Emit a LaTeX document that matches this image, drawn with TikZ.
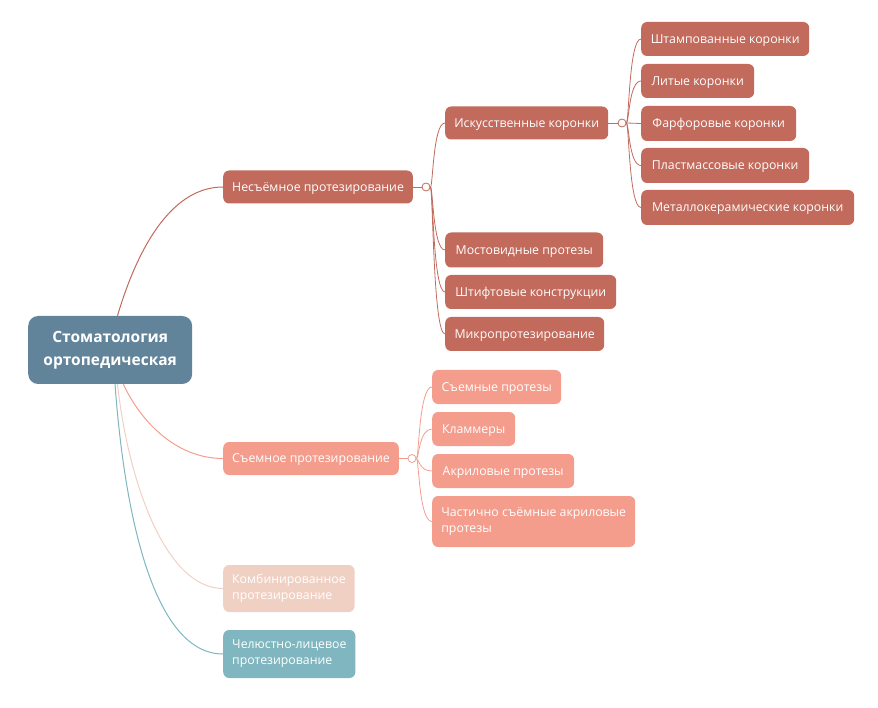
\documentclass[tikz,border=0pt]{standalone}
\usepackage{fontspec}
\setmainfont{Open Sans}
\usepackage{xcolor}
\usepackage{tikz}
\usetikzlibrary{positioning, shapes, calc}
\definecolor{rootblue}{HTML}{61849A}
\definecolor{brick}{HTML}{C26A5C}
\definecolor{salmon}{HTML}{F59D8D}
\definecolor{blush}{HTML}{F1D0C4}
\definecolor{seateal}{HTML}{7FB6BF}

\begin{document}
\begin{tikzpicture}[x=1pt, y=-1pt,
		box/.style={rectangle, rounded corners=6pt, inner xsep=9pt, inner ysep=0pt, text=white, anchor=west, font=\fontsize{12.3}{16}\selectfont},
		oneline/.style={text height=8.8pt, text depth=0pt},
		brickbox/.style={box, oneline, fill=brick},
		salmonbox/.style={box, oneline, fill=salmon},
		hub/.style={circle, draw=#1, fill=white, line width=0.8pt, minimum size=8pt, inner sep=0pt},
		twig/.style={line width=0.8pt}]
		\useasboundingbox (0,0) rectangle (878,708);
		
		\node[box, fill=rootblue, rounded corners=10pt, minimum width=164pt, minimum height=68pt, align=center, font=\bfseries\fontsize{15.5}{23}\selectfont] (root) at (28,350) {Стоматология\\ортопедическая};
		
		\node[brickbox, minimum width=189pt, minimum height=33pt] (fixed) at (223,187) {Несъёмное протезирование};
		\node[hub=brick] (hubA) at (426,187) {};
		\node[brickbox, minimum width=163pt, minimum height=33pt] (crowns) at (445,123) {Искусственные коронки};
		\node[hub=brick] (hubB) at (622,123) {};
		\node[brickbox, minimum width=168pt, minimum height=34pt] (stamped) at (641,39) {Штампованные коронки};
		\node[brickbox, minimum width=113pt, minimum height=34pt] (cast) at (641,81) {Литые коронки};
		\node[brickbox, minimum width=155pt, minimum height=35pt] (porcelain) at (641,123.5) {Фарфоровые коронки};
		\node[brickbox, minimum width=168pt, minimum height=35pt] (plastic) at (641,165.5) {Пластмассовые коронки};
		\node[brickbox, minimum width=213pt, minimum height=35pt] (metalcer) at (641,207.5) {Металлокерамические коронки};
		\node[brickbox, minimum width=158pt, minimum height=35pt] (bridge) at (445,250) {Мостовидные протезы};
		\node[brickbox, minimum width=171pt, minimum height=34pt] (post) at (445,292) {Штифтовые конструкции};
		\node[brickbox, minimum width=159pt, minimum height=34pt] (micro) at (445,334) {Микропротезирование};
		
		\node[salmonbox, minimum width=175pt, minimum height=33pt] (removable) at (223,458.5) {Съемное протезирование};
		\node[hub=salmon] (hubC) at (412,458.5) {};
		\node[salmonbox, minimum width=129pt, minimum height=34pt] (remdent) at (432,387) {Съемные протезы};
		\node[salmonbox, minimum width=83pt, minimum height=34pt] (clasp) at (432,429) {Кламмеры};
		\node[salmonbox, minimum width=142pt, minimum height=34pt] (acryl) at (432,471) {Акриловые протезы};
		\node[box, fill=salmon, align=left, minimum width=203pt, minimum height=51pt] (partial) at (432,521.5) {Частично съёмные акриловые\\протезы};
		
		\node[box, fill=blush, align=left, minimum width=129pt, minimum height=47pt] (combined) at (223,588.5) {Комбинированное\\протезирование};
		\node[box, fill=seateal, align=left, minimum width=132pt, minimum height=48pt] (maxface) at (223,654) {Челюстно-лицевое\\протезирование};
		
		\draw[brick, line width=1pt] (root.78) .. controls (140,240) and (175,187) .. (fixed.west);
		\draw[salmon, line width=1pt] (root.-69) .. controls (140,420) and (175,458.5) .. (removable.west);
		\draw[blush, line width=1pt] (root.-78) .. controls (128,480) and (165,588.5) .. (combined.west);
		\draw[seateal, line width=1pt] (root.-82) .. controls (125,520) and (155,654) .. (maxface.west);
		
		\draw[brick, twig] (fixed.east) -- (hubA.west);
		\draw[brick, twig] (hubA.east) .. controls (433,187) and (433,123) .. (crowns.west);
		\draw[brick, twig] (hubA.east) .. controls (433,187) and (433,250) .. (bridge.west);
		\draw[brick, twig] (hubA.east) .. controls (433,187) and (433,292) .. (post.west);
		\draw[brick, twig] (hubA.east) .. controls (433,187) and (433,334) .. (micro.west);
		
		\draw[brick, twig] (crowns.east) -- (hubB.west);
		\draw[brick, twig] (hubB.east) .. controls (629,123) and (629,39) .. (stamped.west);
		\draw[brick, twig] (hubB.east) .. controls (629,123) and (629,81) .. (cast.west);
		\draw[brick, twig] (hubB.east) -- (porcelain.west);
		\draw[brick, twig] (hubB.east) .. controls (629,123) and (629,165.5) .. (plastic.west);
		\draw[brick, twig] (hubB.east) .. controls (629,123) and (629,207.5) .. (metalcer.west);
		
		\draw[salmon, twig] (removable.east) -- (hubC.west);
		\draw[salmon, twig] (hubC.east) .. controls (419,458.5) and (419,387) .. (remdent.west);
		\draw[salmon, twig] (hubC.east) .. controls (419,458.5) and (419,429) .. (clasp.west);
		\draw[salmon, twig] (hubC.east) .. controls (419,458.5) and (419,471) .. (acryl.west);
		\draw[salmon, twig] (hubC.east) .. controls (419,458.5) and (419,521.5) .. (partial.west);
\end{tikzpicture}
\end{document}
